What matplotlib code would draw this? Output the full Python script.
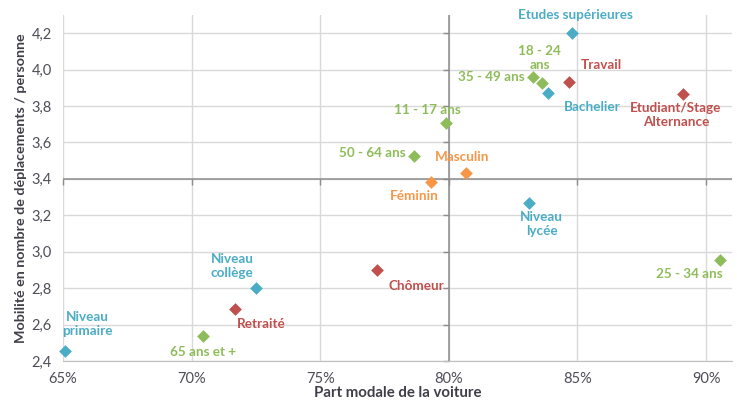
import matplotlib.pyplot as plt

# Données
labels = ["Etudes supérieures", "18 - 24\nans", "35 - 49 ans", "Bachelier", "Travail",
          "Etudiant/Stage\nAlternance", "11 - 17 ans", "50 - 64 ans", "Masculin", "Féminin",
          "Niveau\nlycée", "25 - 34 ans", "Chômeur", "Niveau\ncollège", "Retraité",
          "65 ans et +", "Niveau\nprimaire"]
part_voiture = [84.8, 83.63, 83.27, 83.84, 84.66, 89.1, 79.88, 78.65, 80.66, 79.30,
                83.12, 90.54, 77.22, 72.49, 71.70, 70.44, 65.07]
mobilite = [4.20, 3.925, 3.96, 3.872, 3.93, 3.867, 3.706, 3.527, 3.435, 3.382,
            3.267, 2.954, 2.898, 2.799, 2.683, 2.537, 2.456]
groupes = ["diplome", "age", "age", "diplome", "statut", "statut", "age", "age", "sexe", "sexe",
           "diplome", "age", "statut", "diplome", "statut", "age", "diplome"]

couleurs = {"diplome": "#4bacc6", "age": "#8fbc5a", "statut": "#c0504d", "sexe": "#f79646"}

# décalage des étiquettes (points) et alignement
placement = {
    "Etudes supérieures": ((2, 9), "center", "bottom"),
    "18 - 24\nans": ((-2, 9), "center", "bottom"),
    "35 - 49 ans": ((-6, 0), "right", "center"),
    "Bachelier": ((12, -6), "left", "top"),
    "Travail": ((9, 8), "left", "bottom"),
    "Etudiant/Stage\nAlternance": ((-5, -6), "center", "top"),
    "11 - 17 ans": ((-13, 5), "center", "bottom"),
    "50 - 64 ans": ((-6, 2), "right", "center"),
    "Masculin": ((-3, 7), "center", "bottom"),
    "Féminin": ((-12, -6), "center", "top"),
    "Niveau\nlycée": ((9, -6), "center", "top"),
    "25 - 34 ans": ((2, -6), "right", "top"),
    "Chômeur": ((8, -7), "left", "top"),
    "Niveau\ncollège": ((-17, 7), "center", "bottom"),
    "Retraité": ((1, -6), "left", "top"),
    "65 ans et +": ((0, -7), "center", "top"),
    "Niveau\nprimaire": ((16, 10), "center", "bottom"),
}

plt.rcParams['font.family'] = ['Lato', 'DejaVu Sans']

fig = plt.figure(figsize=(7.37, 4.01), dpi=100)
ax = fig.add_axes([0.0855, 0.0998, 0.9075, 0.8628])

ax.set_xlim(65, 91)
ax.set_ylim(2.4, 4.3)
xticks = [65, 70, 75, 80, 85, 90]
yticks = [2.4, 2.6, 2.8, 3.0, 3.2, 3.4, 3.6, 3.8, 4.0, 4.2]
ax.set_xticks(xticks)
ax.set_yticks(yticks)
ax.set_xticklabels([f"{t}%" for t in xticks])
ax.set_yticklabels([f"{t:.1f}".replace(".", ",") for t in yticks])
ax.tick_params(length=0, labelsize=10.5, labelcolor="#4d4d57")
ax.tick_params(axis="x", pad=8)
ax.tick_params(axis="y", pad=8)

ax.grid(True, color="#d9d9d9", linewidth=1)
ax.set_axisbelow(True)
for s in ["top", "right", "left"]:
    ax.spines[s].set_visible(False)
ax.spines["bottom"].set_color("#bfbfbf")

# axes croisés au centre
ax.axvline(80, color="#8c8c8c", linewidth=1.1, zorder=1)
ax.axhline(3.4, color="#8c8c8c", linewidth=1.1, zorder=1)
ax.plot([80] * len(yticks), yticks, marker=0, markersize=4, color="#8c8c8c",
        linestyle="none", zorder=1, clip_on=False)
ax.plot(xticks, [3.4] * len(xticks), marker=3, markersize=4, color="#8c8c8c",
        linestyle="none", zorder=1, clip_on=False)

for lab, x, y, g in zip(labels, part_voiture, mobilite, groupes):
    c = couleurs[g]
    ax.scatter(x, y, marker="D", s=42, color=c, zorder=3, clip_on=False, linewidths=0)
    off, ha, va = placement[lab]
    ax.annotate(lab, (x, y), xytext=off, textcoords="offset points", ha=ha, va=va,
                color=c, fontsize=9.7, fontweight="bold", linespacing=1.2, zorder=4)

ax.set_xlabel("Part modale de la voiture", fontsize=10.8, fontweight="bold", color="#3f3f4a", labelpad=0)
ax.set_ylabel("Mobilité en nombre de déplacements / personne", fontsize=10.3, fontweight="bold",
              color="#3f3f4a", labelpad=3)

fig.savefig("out.png", dpi=100)
